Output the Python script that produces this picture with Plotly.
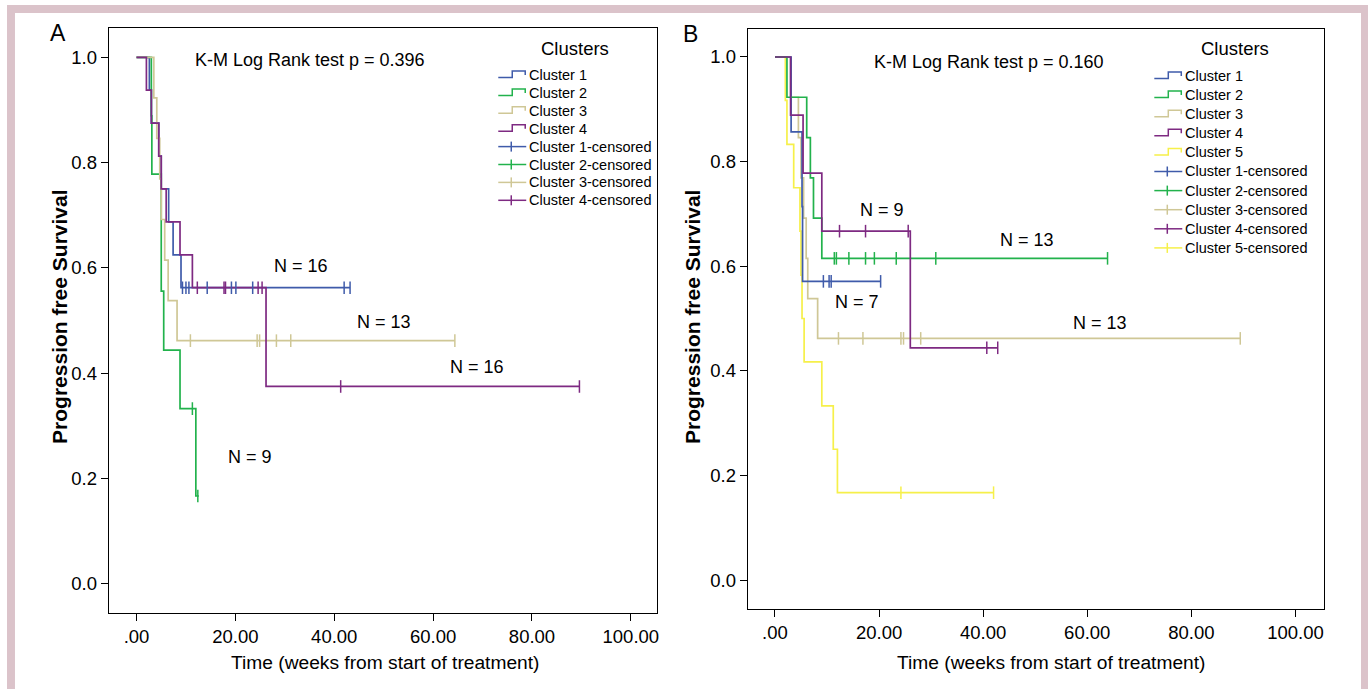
import plotly.graph_objects as go

W, H = 1370, 689
FONT = "Liberation Sans, Arial, Helvetica, sans-serif"

# ---------------- data: panel A ----------------
A_names = ["Cluster 1", "Cluster 2", "Cluster 3", "Cluster 4"]
A_c1_t = [0, 2.6, 3.0, 4.5, 5.0, 6.5, 7.4, 9.0, 43.2]
A_c1_s = [1.0, 0.9375, 0.875, 0.8125, 0.75, 0.6875, 0.625, 0.5625, 0.5625]
A_c2_t = [0, 3.0, 3.1, 5.0, 5.5, 8.8, 12.0, 12.6]
A_c2_s = [1.0, 0.889, 0.778, 0.556, 0.444, 0.333, 0.167, 0.167]
A_c3_t = [0, 3.5, 4.1, 4.7, 5.0, 5.7, 6.4, 8.2, 64.4]
A_c3_s = [1.0, 0.923, 0.846, 0.769, 0.692, 0.615, 0.538, 0.462, 0.462]
A_c4_t = [0, 2.0, 3.0, 4.5, 5.0, 6.0, 8.8, 11.3, 26.2, 89.6]
A_c4_s = [1.0, 0.9375, 0.875, 0.8125, 0.75, 0.6875, 0.625, 0.5625, 0.375, 0.375]

A_cen1_t = [9.3, 10.0, 10.6, 14.3, 19.2, 20.1, 23.5, 42.0, 43.2]
A_cen1_s = [0.5625] * 9
A_cen2_t = [11.3, 12.4]
A_cen2_s = [0.333, 0.167]
A_cen3_t = [10.9, 24.4, 24.9, 28.3, 31.2, 64.4]
A_cen3_s = [0.462] * 6
A_cen4_t = [12.3, 17.7, 18.0, 24.6, 25.4, 41.3, 89.6]
A_cen4_s = [0.5625, 0.5625, 0.5625, 0.5625, 0.5625, 0.375, 0.375]

A_N_labels = ["N = 16", "N = 13", "N = 16", "N = 9"]
A_title = "K-M Log Rank test p = 0.396"

# ---------------- data: panel B ----------------
B_names = ["Cluster 1", "Cluster 2", "Cluster 3", "Cluster 4", "Cluster 5"]
B_c1_t = [0, 3.1, 5.2, 5.3, 20.3]
B_c1_s = [1.0, 0.857, 0.714, 0.571, 0.571]
B_c2_t = [0, 2.3, 6.1, 6.8, 7.4, 9.0, 63.9]
B_c2_s = [1.0, 0.923, 0.846, 0.769, 0.692, 0.615, 0.615]
B_c3_t = [0, 3.0, 4.5, 5.0, 5.5, 6.0, 6.3, 8.2, 89.4]
B_c3_s = [1.0, 0.923, 0.846, 0.769, 0.692, 0.615, 0.538, 0.462, 0.462]
B_c4_t = [0, 3.0, 5.4, 9.0, 26.0, 42.8]
B_c4_s = [1.0, 0.889, 0.778, 0.667, 0.444, 0.444]
B_c5_t = [0, 2.0, 2.3, 3.6, 4.8, 5.0, 5.2, 5.6, 9.0, 11.2, 12.0, 42.0]
B_c5_s = [1.0, 0.917, 0.833, 0.75, 0.667, 0.583, 0.5, 0.417, 0.333, 0.25, 0.167, 0.167]

B_cen1_t = [9.3, 10.4, 10.8, 20.3]
B_cen1_s = [0.571] * 4
B_cen2_t = [11.4, 11.8, 14.2, 17.4, 19.1, 23.3, 30.9, 63.9]
B_cen2_s = [0.615] * 8
B_cen3_t = [12.2, 16.9, 24.2, 24.7, 28.0, 89.4]
B_cen3_s = [0.462] * 6
B_cen4_t = [12.4, 17.4, 25.6, 40.7, 42.8]
B_cen4_s = [0.667, 0.667, 0.667, 0.444, 0.444]
B_cen5_t = [24.2, 42.0]
B_cen5_s = [0.167, 0.167]

B_N_labels = ["N = 9", "N = 13", "N = 7", "N = 13"]
B_title = "K-M Log Rank test p = 0.160"

x_tickvals = [0, 20, 40, 60, 80, 100]
x_ticktext = [".00", "20.00", "40.00", "60.00", "80.00", "100.00"]
y_tickvals = [0.0, 0.2, 0.4, 0.6, 0.8, 1.0]
y_ticktext = ["0.0", "0.2", "0.4", "0.6", "0.8", "1.0"]

COLORS = ["#3F5BAA", "#22B24C", "#CFC796", "#7E2A82", "#F6F04A"]

# ---------------- helpers (pixel -> paper) ----------------
def px(x):
    return x / W

def py(y):
    return 1 - y / H

fig = go.Figure()

A_curves = [(A_c1_t, A_c1_s), (A_c2_t, A_c2_s), (A_c3_t, A_c3_s), (A_c4_t, A_c4_s)]
A_cens = [(A_cen1_t, A_cen1_s), (A_cen2_t, A_cen2_s), (A_cen3_t, A_cen3_s), (A_cen4_t, A_cen4_s)]
B_curves = [(B_c1_t, B_c1_s), (B_c2_t, B_c2_s), (B_c3_t, B_c3_s), (B_c4_t, B_c4_s), (B_c5_t, B_c5_s)]
B_cens = [(B_cen1_t, B_cen1_s), (B_cen2_t, B_cen2_s), (B_cen3_t, B_cen3_s), (B_cen4_t, B_cen4_s), (B_cen5_t, B_cen5_s)]

def add_panel(curves, cens, names, xa, ya, order):
    for i in order:
        t, s = curves[i]
        fig.add_trace(go.Scatter(x=t, y=s, mode="lines", line=dict(color=COLORS[i], width=1.7, shape="hv"),
                                 name=names[i], showlegend=False, xaxis=xa, yaxis=ya, hoverinfo="skip"))
    for i in order:
        t, s = cens[i]
        fig.add_trace(go.Scatter(x=t, y=s, mode="markers",
                                 marker=dict(symbol="line-ns", size=9, line=dict(color=COLORS[i], width=1.5)),
                                 name=names[i] + "-censored", showlegend=False, xaxis=xa, yaxis=ya, hoverinfo="skip"))

add_panel(A_curves, A_cens, A_names, "x", "y", [0, 1, 2, 3])
add_panel(B_curves, B_cens, B_names, "x2", "y2", [4, 2, 0, 1, 3])

axis_common = dict(showline=True, linecolor="black", linewidth=1.4, mirror=True, ticks="outside",
                   ticklen=7, tickwidth=1.4, tickcolor="black", showgrid=False, zeroline=False,
                   tickfont=dict(family=FONT, size=18.5, color="black"))

fig.update_layout(
    width=W, height=H, margin=dict(l=0, r=0, t=0, b=0),
    paper_bgcolor="white", plot_bgcolor="white", showlegend=False,
    xaxis=dict(domain=[px(109), px(658)], range=[-5.6, 105.3], tickvals=x_tickvals, ticktext=x_ticktext,
               anchor="y", **axis_common),
    yaxis=dict(domain=[py(613), py(28)], range=[-0.0551, 1.0556], tickvals=y_tickvals, ticktext=y_ticktext,
               anchor="x", **axis_common),
    xaxis2=dict(domain=[px(749), px(1326)], range=[-5.2, 105.5], tickvals=x_tickvals, ticktext=x_ticktext,
                anchor="y2", **axis_common),
    yaxis2=dict(domain=[py(609), py(29)], range=[-0.0554, 1.0535], tickvals=y_tickvals, ticktext=y_ticktext,
                anchor="x2", **axis_common),
)

ann = []
shapes = []

def text(x, y, s, size, bold=False, xanchor="center", angle=0):
    ann.append(dict(x=px(x), y=py(y), xref="paper", yref="paper", text=("<b>%s</b>" % s) if bold else s,
                    showarrow=False, xanchor=xanchor, yanchor="middle", textangle=angle,
                    font=dict(family=FONT, size=size, color="black")))

# panel letters, titles, axis titles
text(58, 33, "A", 23)
text(692, 34, "B", 23)
text(310, 60, A_title, 18)
text(990, 62, B_title, 18)
text(60, 317, "Progression free Survival", 21, bold=True, angle=-90)
text(694, 317, "Progression free Survival", 21, bold=True, angle=-90)
text(386, 662, "Time (weeks from start of treatment)", 19.2)
text(1053, 662, "Time (weeks from start of treatment)", 19.2)

# N labels
for (x, y), s in zip([(301, 266), (385, 322), (478, 367), (250, 457)], A_N_labels):
    text(x, y, s, 18)
for (x, y), s in zip([(883, 210), (1029, 240), (858, 302), (1102, 323)], B_N_labels):
    text(x, y, s, 18)

# manual legends
def legend(title_x, title_y, x0, y0, dy, names, font_size):
    text(title_x, title_y, "Clusters", 18.5)
    entries = [(n, i, False) for i, n in enumerate(names)] + [(n + "-censored", i, True) for i, n in enumerate(names)]
    for k, (label, ci, cens) in enumerate(entries):
        cy = y0 + k * dy
        col = COLORS[ci]
        if cens:
            shapes.append(dict(type="line", xref="paper", yref="paper", x0=px(x0), x1=px(x0 + 28),
                               y0=py(cy), y1=py(cy), line=dict(color=col, width=1.5)))
            shapes.append(dict(type="line", xref="paper", yref="paper", x0=px(x0 + 13), x1=px(x0 + 13),
                               y0=py(cy - 5), y1=py(cy + 5), line=dict(color=col, width=1.5)))
        else:
            path = "M %f,%f L %f,%f L %f,%f L %f,%f L %f,%f" % (
                px(x0), py(cy + 2.5), px(x0 + 14), py(cy + 2.5), px(x0 + 14), py(cy - 4),
                px(x0 + 27), py(cy - 4), px(x0 + 27), py(cy))
            shapes.append(dict(type="path", xref="paper", yref="paper", path=path,
                               line=dict(color=col, width=1.5)))
        text(x0 + 29, cy, label, font_size, xanchor="left")

legend(576, 48, 499, 75, 17.9, A_names, 14.5)
legend(1237, 48, 1156, 76, 19.1, B_names, 14.5)

# pink frame
PINK = "#DBC3CA"
shapes.append(dict(type="rect", xref="paper", yref="paper", x0=px(7), x1=px(15), y0=0, y1=py(5),
                   fillcolor=PINK, line=dict(width=0), layer="below"))
shapes.append(dict(type="rect", xref="paper", yref="paper", x0=px(7), x1=1, y0=py(13), y1=py(5),
                   fillcolor=PINK, line=dict(width=0), layer="below"))
shapes.append(dict(type="rect", xref="paper", yref="paper", x0=px(1363), x1=1, y0=0, y1=py(5),
                   fillcolor=PINK, line=dict(width=0), layer="below"))

fig.update_layout(annotations=ann, shapes=shapes)
fig.write_html("out.html", config={"displayModeBar": False},
               post_script="document.body.style.margin='0';document.body.style.overflow='hidden';")
